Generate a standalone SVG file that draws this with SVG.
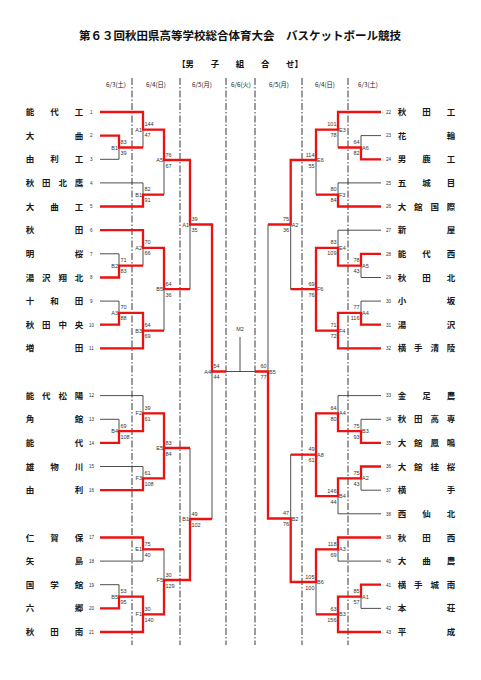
<svg xmlns="http://www.w3.org/2000/svg" width="481" height="680" viewBox="0 0 481 680">
<style>
.title{font-family:"Noto Sans CJK JP",sans-serif;font-size:11.5px;font-weight:bold;fill:#111;text-anchor:middle}
.sub{font-family:"Noto Sans CJK JP",sans-serif;font-size:8.4px;font-weight:bold;fill:#111;text-anchor:middle}
.dt{font-family:"Noto Sans CJK JP",sans-serif;font-size:6.3px;fill:#222;text-anchor:middle}
.nm{font-family:"Noto Sans CJK JP",sans-serif;font-size:8.5px;font-weight:bold;fill:#1a1a1a;text-anchor:middle}
.no{font-family:"Liberation Sans",sans-serif;font-size:4.6px;fill:#333}
.sc{font-family:"Liberation Sans",sans-serif;font-size:5.5px;fill:#333}
.e{text-anchor:end}
.m{text-anchor:middle}
.blk{fill:none;stroke:#3a3a3a;stroke-width:0.9}
.red{fill:none;stroke:#ee1111;stroke-width:2.3;stroke-linejoin:miter;stroke-linecap:butt}
.sep{fill:none;stroke:#222;stroke-width:0.9;stroke-dasharray:7 2 1.5 2}
</style>
<g id="header">
<text class="title" x="240" y="39.5">第６３回秋田県高等学校総合体育大会　バスケットボール競技</text>
<text class="sub" x="240" y="67">【男　　子　　組　　合　　せ】</text>
<text class="dt" x="116" y="86.5">6/3(土)</text>
<text class="dt" x="156" y="86.5">6/4(日)</text>
<text class="dt" x="202" y="86.5">6/5(月)</text>
<text class="dt" x="241" y="86.5">6/6(火)</text>
<text class="dt" x="279" y="86.5">6/5(月)</text>
<text class="dt" x="325" y="86.5">6/4(日)</text>
<text class="dt" x="368" y="86.5">6/3(土)</text>
</g>
<g id="separators">
<path class="sep" d="M132 78V645M180 78V645M226 78V645M255 78V645M302 78V645M348 78V645"/>
</g>
<g id="team-1"><text class="nm" x="30 54.5 79" y="115">能代工</text><text class="no" x="90" y="113.8">1</text></g>
<g id="team-2"><text class="nm" x="30 79" y="138.6">大曲</text><text class="no" x="90" y="137.4">2</text></g>
<g id="team-3"><text class="nm" x="30 54.5 79" y="162.3">由利工</text><text class="no" x="90" y="161.1">3</text></g>
<g id="team-4"><text class="nm" x="30 46.3 62.7 79" y="185.9">秋田北鷹</text><text class="no" x="90" y="184.7">4</text></g>
<g id="team-5"><text class="nm" x="30 54.5 79" y="209.5">大曲工</text><text class="no" x="90" y="208.3">5</text></g>
<g id="team-6"><text class="nm" x="30 79" y="233.2">秋田</text><text class="no" x="90" y="232">6</text></g>
<g id="team-7"><text class="nm" x="30 79" y="256.8">明桜</text><text class="no" x="90" y="255.6">7</text></g>
<g id="team-8"><text class="nm" x="30 46.3 62.7 79" y="280.5">湯沢翔北</text><text class="no" x="90" y="279.3">8</text></g>
<g id="team-9"><text class="nm" x="30 54.5 79" y="304.1">十和田</text><text class="no" x="90" y="302.9">9</text></g>
<g id="team-10"><text class="nm" x="30 46.3 62.7 79" y="327.7">秋田中央</text><text class="no" x="89" y="326.5">10</text></g>
<g id="team-11"><text class="nm" x="30 79" y="351.4">増田</text><text class="no" x="89" y="350.2">11</text></g>
<g id="team-12"><text class="nm" x="30 46.3 62.7 79" y="398.6">能代松陽</text><text class="no" x="89" y="397.4">12</text></g>
<g id="team-13"><text class="nm" x="30 79" y="422.3">角館</text><text class="no" x="89" y="421.1">13</text></g>
<g id="team-14"><text class="nm" x="30 79" y="445.9">能代</text><text class="no" x="89" y="444.7">14</text></g>
<g id="team-15"><text class="nm" x="30 54.5 79" y="469.5">雄物川</text><text class="no" x="89" y="468.3">15</text></g>
<g id="team-16"><text class="nm" x="30 79" y="493.2">由利</text><text class="no" x="89" y="492">16</text></g>
<g id="team-17"><text class="nm" x="30 54.5 79" y="540.5">仁賀保</text><text class="no" x="89" y="539.3">17</text></g>
<g id="team-18"><text class="nm" x="30 79" y="564.1">矢島</text><text class="no" x="89" y="562.9">18</text></g>
<g id="team-19"><text class="nm" x="30 54.5 79" y="587.7">国学館</text><text class="no" x="89" y="586.5">19</text></g>
<g id="team-20"><text class="nm" x="30 79" y="611.4">六郷</text><text class="no" x="89" y="610.2">20</text></g>
<g id="team-21"><text class="nm" x="30 54.5 79" y="635">秋田南</text><text class="no" x="89" y="633.8">21</text></g>
<g id="team-22"><text class="nm" x="402 426.5 451" y="115">秋田工</text><text class="no" x="386" y="113.8">22</text></g>
<g id="team-23"><text class="nm" x="402 451" y="138.6">花輪</text><text class="no" x="386" y="137.4">23</text></g>
<g id="team-24"><text class="nm" x="402 426.5 451" y="162.3">男鹿工</text><text class="no" x="386" y="161.1">24</text></g>
<g id="team-25"><text class="nm" x="402 426.5 451" y="185.9">五城目</text><text class="no" x="386" y="184.7">25</text></g>
<g id="team-26"><text class="nm" x="402 418.3 434.7 451" y="209.5">大館国際</text><text class="no" x="386" y="208.3">26</text></g>
<g id="team-27"><text class="nm" x="402 451" y="233.2">新屋</text><text class="no" x="386" y="232">27</text></g>
<g id="team-28"><text class="nm" x="402 426.5 451" y="256.8">能代西</text><text class="no" x="386" y="255.6">28</text></g>
<g id="team-29"><text class="nm" x="402 426.5 451" y="280.5">秋田北</text><text class="no" x="386" y="279.3">29</text></g>
<g id="team-30"><text class="nm" x="402 451" y="304.1">小坂</text><text class="no" x="386" y="302.9">30</text></g>
<g id="team-31"><text class="nm" x="402 451" y="327.7">湯沢</text><text class="no" x="386" y="326.5">31</text></g>
<g id="team-32"><text class="nm" x="402 418.3 434.7 451" y="351.4">横手清陵</text><text class="no" x="386" y="350.2">32</text></g>
<g id="team-33"><text class="nm" x="402 426.5 451" y="398.6">金足農</text><text class="no" x="386" y="397.4">33</text></g>
<g id="team-34"><text class="nm" x="402 418.3 434.7 451" y="422.3">秋田高専</text><text class="no" x="386" y="421.1">34</text></g>
<g id="team-35"><text class="nm" x="402 418.3 434.7 451" y="445.9">大館鳳鳴</text><text class="no" x="386" y="444.7">35</text></g>
<g id="team-36"><text class="nm" x="402 418.3 434.7 451" y="469.5">大館桂桜</text><text class="no" x="386" y="468.3">36</text></g>
<g id="team-37"><text class="nm" x="402 451" y="493.2">横手</text><text class="no" x="386" y="492">37</text></g>
<g id="team-38"><text class="nm" x="402 426.5 451" y="516.8">西仙北</text><text class="no" x="386" y="515.6">38</text></g>
<g id="team-39"><text class="nm" x="402 426.5 451" y="540.5">秋田西</text><text class="no" x="386" y="539.3">39</text></g>
<g id="team-40"><text class="nm" x="402 426.5 451" y="564.1">大曲農</text><text class="no" x="386" y="562.9">40</text></g>
<g id="team-41"><text class="nm" x="402 418.3 434.7 451" y="587.7">横手城南</text><text class="no" x="386" y="586.5">41</text></g>
<g id="team-42"><text class="nm" x="402 451" y="611.4">本荘</text><text class="no" x="386" y="610.2">42</text></g>
<g id="team-43"><text class="nm" x="402 451" y="635">平成</text><text class="no" x="386" y="633.8">43</text></g>
<g id="connectors">
<path class="blk" d="M100 112H143M100 135.6H119M100 159.3H119M100 182.9H143M100 206.5H143M100 230.2H143M100 253.8H119M100 277.5H119M100 301.1H119M100 324.7H119M100 348.4H143M100 395.6H143M100 419.3H119M100 442.9H119M100 466.5H143M100 490.2H143M100 537.5H143M100 561.1H143M100 584.7H119M100 608.4H119M100 632H143
M119 135.6V159.3M119 147.5H143M143 112V147.5M143 129.7H164M143 182.9V206.5M143 194.7H164M164 129.7V194.7M164 160H190M143 230.2V265.6M143 247.9H164M119 253.8V277.5M119 265.6H143M119 301.1V324.7M119 312.9H143M143 312.9V348.4M143 330.6H164M164 247.9V330.6M164 289.2H190M190 160V289.2M190 224.5H212
M119 419.3V442.9M119 431.1H143M143 395.6V431.1M143 413.3H164M143 466.5V490.2M143 478.4H164M164 413.3V478.4M164 448H190M143 537.5V561.1M143 549.3H164M119 584.7V608.4M119 596.6H143M143 596.6V632M143 614.3H164M164 549.3V614.3M164 580H190M190 448V580M190 519H212M212 224.5V519
M212 371.5H268M240 337V371.5
M381 112H338M381 135.6H361M381 159.3H361M381 182.9H338M381 206.5H338M381 230.2H338M381 253.8H361M381 277.5H361M381 301.1H361M381 324.7H361M381 348.4H338M381 395.6H338M381 419.3H361M381 442.9H361M381 466.5H361M381 490.2H361M381 513.8H338M381 537.5H338M381 561.1H338M381 584.7H361M381 608.4H361M381 632H338
M361 135.6V159.3M361 147.5H338M338 112V147.5M338 129.7H316M338 182.9V206.5M338 194.7H316M316 129.7V194.7M316 160H290.7M361 253.8V277.5M361 265.6H338M338 230.2V265.6M338 247.9H316M361 301.1V324.7M361 312.9H338M338 312.9V348.4M338 330.6H316M316 247.9V330.6M316 289.2H290.7M290.7 160V289.2M290.7 224.5H268
M361 419.3V442.9M361 431.1H338M338 395.6V431.1M338 413.3H316M361 466.5V490.2M361 478.4H338M338 478.4V513.8M338 496.1H316M316 413.3V496.1M316 454.7H290.7M338 537.5V561.1M338 549.3H316M361 584.7V608.4M361 596.6H338M338 596.6V632M338 614.3H316M316 549.3V614.3M316 582H290.7M290.7 454.7V582M290.7 518.5H268M268 224.5V518.5"/>
<path class="red" d="M100 112H143V129.7H164V160H190V224.5H212V371.5H226"/>
<path class="red" d="M100 135.6H119V147.5H143"/>
<path class="red" d="M100 206.5H143V194.7H164"/>
<path class="red" d="M100 230.2H143V247.9H164V289.2H190"/>
<path class="red" d="M100 277.5H119V265.6H143"/>
<path class="red" d="M100 324.7H119V312.9H143V330.6"/>
<path class="red" d="M100 348.4H143V330.6H164"/>
<path class="red" d="M100 442.9H119V431.1H143V413.3H164V448"/>
<path class="red" d="M100 490.2H143V478.4H164V448H190"/>
<path class="red" d="M100 537.5H143V549.3H164"/>
<path class="red" d="M100 608.4H119V596.6H143V614.3"/>
<path class="red" d="M100 632H143V614.3H164V580H190V519H212"/>
<path class="red" d="M381 112H338V129.7H316V160H290.7V224.5H268"/>
<path class="red" d="M381 159.3H361V147.5H338"/>
<path class="red" d="M381 206.5H338V194.7H316"/>
<path class="red" d="M381 253.8H361V265.6H338V247.9H316V289.2"/>
<path class="red" d="M381 324.7H361V312.9H338V330.6"/>
<path class="red" d="M381 348.4H338V330.6H316V289.2H290.7"/>
<path class="red" d="M381 442.9H361V431.1H338V413.3H316V454.7"/>
<path class="red" d="M381 466.5H361V478.4H338V496.1H316V454.7H290.7"/>
<path class="red" d="M381 537.5H338V549.3H316V582H290.7V518.5H268V371.5H255"/>
<path class="red" d="M381 584.7H361V596.6H338V614.3"/>
<path class="red" d="M381 632H338V614.3H316"/>
</g>
<g id="match-final"><text class="sc m" x="240" y="331">M2</text></g>
<g id="matches-left" class="sc">
<g id="mL-B1"><text class="e" x="118" y="149.5">B1</text><text x="120.5" y="144">83</text><text x="120.5" y="155">39</text></g>
<g id="mL-A1"><text class="e" x="142" y="131.7">A1</text><text x="144.5" y="126.2">144</text><text x="144.5" y="137.2">47</text></g>
<g id="mL-B1b"><text class="e" x="142" y="196.7">B1</text><text x="144.5" y="191.2">82</text><text x="144.5" y="202.2">91</text></g>
<g id="mL-A5"><text class="e" x="163" y="162">A5</text><text x="165.5" y="156.5">76</text><text x="165.5" y="167.5">67</text></g>
<g id="mL-A2"><text class="e" x="142" y="249.9">A2</text><text x="144.5" y="244.4">70</text><text x="144.5" y="255.4">66</text></g>
<g id="mL-B2"><text class="e" x="118" y="267.6">B2</text><text x="120.5" y="262.1">71</text><text x="120.5" y="273.1">83</text></g>
<g id="mL-A3"><text class="e" x="118" y="314.9">A3</text><text x="120.5" y="309.4">70</text><text x="120.5" y="320.4">88</text></g>
<g id="mL-B3"><text class="e" x="142" y="332.6">B3</text><text x="144.5" y="327.1">64</text><text x="144.5" y="338.1">69</text></g>
<g id="mL-B5"><text class="e" x="163" y="291.2">B5</text><text x="165.5" y="285.7">64</text><text x="165.5" y="296.7">36</text></g>
<g id="mL-A1b"><text class="e" x="189" y="226.5">A1</text><text x="191.5" y="221">39</text><text x="191.5" y="232">35</text></g>
<g id="mL-B4"><text class="e" x="118" y="433.1">B4</text><text x="120.5" y="427.6">69</text><text x="120.5" y="438.6">108</text></g>
<g id="mL-F2"><text class="e" x="142" y="415.3">F2</text><text x="144.5" y="409.8">39</text><text x="144.5" y="420.8">61</text></g>
<g id="mL-F3"><text class="e" x="142" y="480.4">F3</text><text x="144.5" y="474.9">61</text><text x="144.5" y="485.9">108</text></g>
<g id="mL-E5"><text class="e" x="163" y="450">E5</text><text x="165.5" y="444.5">83</text><text x="165.5" y="455.5">84</text></g>
<g id="mL-E1"><text class="e" x="142" y="551.3">E1</text><text x="144.5" y="545.8">75</text><text x="144.5" y="556.8">40</text></g>
<g id="mL-B5b"><text class="e" x="118" y="598.6">B5</text><text x="120.5" y="593.1">53</text><text x="120.5" y="604.1">95</text></g>
<g id="mL-F1"><text class="e" x="142" y="616.3">F1</text><text x="144.5" y="610.8">30</text><text x="144.5" y="621.8">140</text></g>
<g id="mL-F5"><text class="e" x="163" y="582">F5</text><text x="165.5" y="576.5">30</text><text x="165.5" y="587.5">129</text></g>
<g id="mL-B1c"><text class="e" x="189" y="521">B1</text><text x="191.5" y="515.5">49</text><text x="191.5" y="526.5">102</text></g>
<g id="mL-A4"><text class="e" x="211" y="373.5">A4</text><text x="213.5" y="368">54</text><text x="213.5" y="379">44</text></g>
</g>
<g id="matches-right" class="sc">
<g id="mR-A6"><text x="362" y="149.5">A6</text><text class="e" x="359.5" y="144">64</text><text class="e" x="359.5" y="155">82</text></g>
<g id="mR-E3"><text x="339" y="131.7">E3</text><text class="e" x="336.5" y="126.2">101</text><text class="e" x="336.5" y="137.2">78</text></g>
<g id="mR-F3"><text x="339" y="196.7">F3</text><text class="e" x="336.5" y="191.2">80</text><text class="e" x="336.5" y="202.2">84</text></g>
<g id="mR-E6"><text x="317" y="162">E6</text><text class="e" x="314.5" y="156.5">114</text><text class="e" x="314.5" y="167.5">55</text></g>
<g id="mR-A5"><text x="362" y="267.6">A5</text><text class="e" x="359.5" y="262.1">78</text><text class="e" x="359.5" y="273.1">43</text></g>
<g id="mR-E4"><text x="339" y="249.9">E4</text><text class="e" x="336.5" y="244.4">83</text><text class="e" x="336.5" y="255.4">109</text></g>
<g id="mR-A4"><text x="362" y="314.9">A4</text><text class="e" x="359.5" y="309.4">77</text><text class="e" x="359.5" y="320.4">116</text></g>
<g id="mR-F4"><text x="339" y="332.6">F4</text><text class="e" x="336.5" y="327.1">71</text><text class="e" x="336.5" y="338.1">72</text></g>
<g id="mR-F6"><text x="317" y="291.2">F6</text><text class="e" x="314.5" y="285.7">69</text><text class="e" x="314.5" y="296.7">76</text></g>
<g id="mR-A2"><text x="291.7" y="226.5">A2</text><text class="e" x="289.2" y="221">75</text><text class="e" x="289.2" y="232">36</text></g>
<g id="mR-B3"><text x="362" y="433.1">B3</text><text class="e" x="359.5" y="427.6">75</text><text class="e" x="359.5" y="438.6">93</text></g>
<g id="mR-A4b"><text x="339" y="415.3">A4</text><text class="e" x="336.5" y="409.8">64</text><text class="e" x="336.5" y="420.8">80</text></g>
<g id="mR-A2b"><text x="362" y="480.4">A2</text><text class="e" x="359.5" y="474.9">75</text><text class="e" x="359.5" y="485.9">43</text></g>
<g id="mR-B4"><text x="339" y="498.1">B4</text><text class="e" x="336.5" y="492.6">146</text><text class="e" x="336.5" y="503.6">44</text></g>
<g id="mR-A8"><text x="317" y="456.7">A8</text><text class="e" x="314.5" y="451.2">49</text><text class="e" x="314.5" y="462.2">61</text></g>
<g id="mR-A3"><text x="339" y="551.3">A3</text><text class="e" x="336.5" y="545.8">118</text><text class="e" x="336.5" y="556.8">69</text></g>
<g id="mR-A1"><text x="362" y="598.6">A1</text><text class="e" x="359.5" y="593.1">85</text><text class="e" x="359.5" y="604.1">57</text></g>
<g id="mR-B3b"><text x="339" y="616.3">B3</text><text class="e" x="336.5" y="610.8">63</text><text class="e" x="336.5" y="621.8">156</text></g>
<g id="mR-B6"><text x="317" y="584">B6</text><text class="e" x="314.5" y="578.5">105</text><text class="e" x="314.5" y="589.5">100</text></g>
<g id="mR-B2"><text x="291.7" y="520.5">B2</text><text class="e" x="289.2" y="515">47</text><text class="e" x="289.2" y="526">76</text></g>
<g id="mR-B5"><text x="269" y="373.5">B5</text><text class="e" x="266.5" y="368">60</text><text class="e" x="266.5" y="379">77</text></g>
</g>
</svg>
